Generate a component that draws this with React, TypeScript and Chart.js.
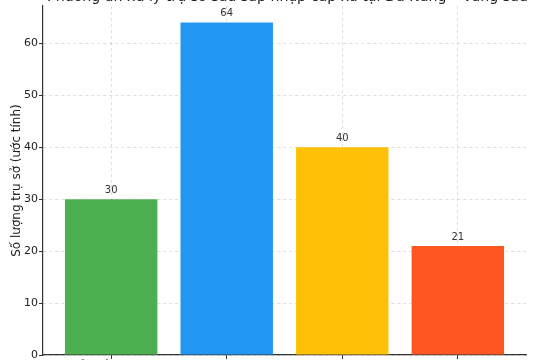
import React, { useEffect, useRef } from "react";
import { Chart, registerables } from "chart.js";

Chart.register(...registerables);

const title = "Phương án xử lý trụ sở sau sáp nhập cấp xã tại Đà Nẵng – Vùng sâu";
const categories = ["Chuyển đổi công năng", "Tiếp tục sử dụng", "Bàn giao cho đơn vị khác", "Thanh lý, bán đấu giá"];
const values = [30, 64, 40, 21];
const colors = ["#4CAF50", "#2196F3", "#FFC107", "#FF5722"];
const yTicks = [0, 10, 20, 30, 40, 50, 60];
const yLabel = "Số lượng trụ sở (ước tính)";

const FONT = "'DejaVu Sans', sans-serif";

const barLabels = {
  id: "barLabels",
  afterDatasetsDraw(chart: any) {
    const ctx = chart.ctx;
    const meta = chart.getDatasetMeta(0);
    ctx.save();
    ctx.font = `10px ${FONT}`;
    ctx.fillStyle = "#333";
    ctx.textAlign = "center";
    ctx.textBaseline = "bottom";
    meta.data.forEach((bar: any, i: number) => {
      ctx.fillText(String(values[i]), bar.x, bar.y - 4);
    });
    ctx.restore();
  },
};

const titleDraw = {
  id: "titleDraw",
  afterDraw(chart: any) {
    const ctx = chart.ctx;
    const { left, right } = chart.chartArea;
    ctx.save();
    ctx.font = `14.2px ${FONT}`;
    ctx.fillStyle = "#222";
    ctx.textAlign = "center";
    ctx.textBaseline = "middle";
    ctx.fillText(title, (left + right) / 2 + 3, 37);
    ctx.restore();
  },
};

export default function App() {
  const ref = useRef<HTMLCanvasElement>(null);
  useEffect(() => {
    if (!ref.current) return;
    const chart = new Chart(ref.current, {
      type: "bar",
      data: {
        datasets: [
          {
            data: values.map((v, i) => ({ x: i, y: v })),
            backgroundColor: colors,
            categoryPercentage: 1,
            barPercentage: 0.8,
          },
        ],
      },
      options: {
        animation: false,
        responsive: false,
        maintainAspectRatio: false,
        layout: { padding: { left: 0, right: 14, top: 46, bottom: 0 } },
        plugins: {
          legend: { display: false },
          tooltip: { enabled: false },
          title: { display: false },
        },
        scales: {
          x: {
            type: "linear",
            min: -0.59,
            max: 3.59,
            offset: false,
            z: 1,
            afterBuildTicks: (s: any) => {
              s.ticks = categories.map((_, i) => ({ value: i }));
            },
            afterFit: (s: any) => {
              s.height = 65;
            },
            ticks: {
              autoSkip: false,
              maxRotation: 0,
              minRotation: 0,
              padding: 1,
              color: "#222",
              font: { family: FONT, size: 11 },
              callback: (v: any) => categories[v as number] ?? "",
            },
            grid: {
              offset: false,
              color: "rgba(0,0,0,0.16)",
              lineWidth: 0.8,
              drawTicks: true,
              tickLength: 4,
              tickColor: "#333",
              tickWidth: 1,
              tickBorderDash: [],
            },
            border: { display: true, color: "#333", width: 1.2, dash: [3, 3] },
          },
          y: {
            min: 0,
            max: 67.2,
            z: 1,
            afterBuildTicks: (s: any) => {
              s.ticks = yTicks.map((v) => ({ value: v }));
            },
            afterFit: (s: any) => {
              s.width = 43;
            },
            ticks: {
              padding: 1,
              color: "#222",
              font: { family: FONT, size: 11 },
            },
            grid: {
              color: "rgba(0,0,0,0.16)",
              lineWidth: 0.8,
              drawTicks: true,
              tickLength: 4,
              tickColor: "#333",
              tickWidth: 1,
              tickBorderDash: [],
            },
            border: { display: true, color: "#333", width: 1.2, dash: [3, 3] },
            title: {
              display: true,
              text: yLabel,
              color: "#222",
              font: { family: FONT, size: 12 },
              padding: { top: 10, bottom: 0 },
            },
          },
        },
      },
      plugins: [barLabels, titleDraw],
    } as any);
    return () => chart.destroy();
  }, []);
  return (
    <div style={{ position: "fixed", left: 0, top: 0, width: 540, height: 360, overflow: "hidden", background: "#fff" }}>
      <canvas ref={ref} width={540} height={460} style={{ position: "absolute", left: 0, top: -40, width: 540, height: 460 }} />
    </div>
  );
}
